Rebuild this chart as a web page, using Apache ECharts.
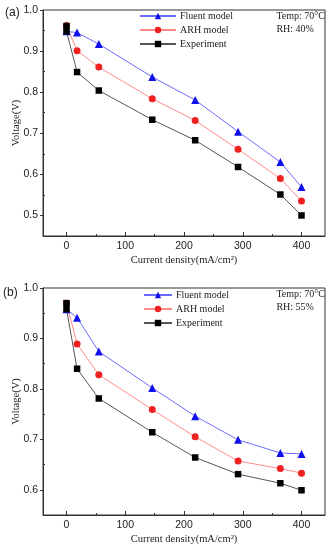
<!DOCTYPE html>
<html><head><meta charset="utf-8">
<script src="https://cdn.jsdelivr.net/npm/echarts@6/dist/echarts.min.js"></script>
<style>html,body{margin:0;padding:0;background:#fff}#c{width:332px;height:550px}</style>
</head><body><div id="c"></div>
<script>
const seriesNames = ['Fluent model', 'ARH model', 'Experiment'];
const xA_fluent = [0, 18, 55, 146, 219, 292, 364, 400];
const yA_fluent = [0.948, 0.945, 0.917, 0.837, 0.781, 0.704, 0.630, 0.569];
const xA_arh = [0, 18, 55, 146, 219, 292, 364, 400];
const yA_arh = [0.962, 0.901, 0.861, 0.784, 0.731, 0.661, 0.590, 0.535];
const xA_exp = [0, 0, 18, 55, 146, 219, 292, 364, 400];
const yA_exp = [0.961, 0.948, 0.849, 0.804, 0.733, 0.683, 0.618, 0.551, 0.500];

const xB_fluent = [0, 18, 55, 146, 219, 292, 364, 400];
const yB_fluent = [0.958, 0.941, 0.874, 0.802, 0.746, 0.699, 0.673, 0.671];
const xB_arh = [0, 18, 55, 146, 219, 292, 364, 400];
const yB_arh = [0.970, 0.889, 0.828, 0.759, 0.705, 0.657, 0.642, 0.633];
const xB_exp = [0, 0, 18, 55, 146, 219, 292, 364, 400];
const yB_exp = [0.970, 0.958, 0.840, 0.781, 0.714, 0.664, 0.631, 0.613, 0.599];

const xTicks = [0, 100, 200, 300, 400];
const xMinorTicks = [50, 150, 250, 350];
const yTicksA = [0.5, 0.6, 0.7, 0.8, 0.9, 1.0];
const yMinorA = [0.55, 0.65, 0.75, 0.85, 0.95];
const yTicksB = [0.6, 0.7, 0.8, 0.9, 1.0];
const yMinorB = [0.65, 0.75, 0.85, 0.95];
const panelLabels = ['(a)', '(b)'];
const notesA = ['Temp: 70°C', 'RH: 40%'];
const notesB = ['Temp: 70°C', 'RH: 55%'];
const xName = 'Current density(mA/cm²)';
const yName = 'Voltage(V)';

const pair = (xs, ys) => xs.map((x, i) => [x, ys[i]]);
const serif = 'Liberation Serif';
const sans = 'Liberation Sans';
const grids = [
  {left: 43, top: 10, width: 282, height: 226},
  {left: 43, top: 288, width: 282, height: 227}
];
const xRange = [-40, 440];
const yRanges = [[0.45, 1.0], [0.55, 1.0]];
const yTicks = [yTicksA, yTicksB];
const yMinor = [yMinorA, yMinorB];
const axisColor = '#333';

const xAxes = [], yAxes = [];
grids.forEach((g, i) => {
  xAxes.push({
    type: 'value', gridIndex: i, min: xRange[0], max: xRange[1], position: 'bottom', offset: 0,
    name: xName, nameLocation: 'middle', nameGap: 19, nameMoveOverlap: false,
    nameTextStyle: {fontFamily: serif, fontSize: 10.5, color: '#222'},
    axisLine: {show: true, onZero: false, lineStyle: {color: axisColor, width: 1}},
    axisTick: {show: true, inside: true, length: 4, customValues: xTicks, lineStyle: {color: axisColor}},
    axisLabel: {customValues: xTicks, fontFamily: sans, fontSize: 10.5, color: '#222', margin: 5},
    splitLine: {show: false}
  });
  xAxes.push({
    type: 'value', gridIndex: i, min: xRange[0], max: xRange[1], position: 'bottom', offset: 0,
    axisLine: {show: false, onZero: false},
    axisTick: {show: true, inside: true, length: 2, customValues: xMinorTicks, lineStyle: {color: axisColor}},
    axisLabel: {show: false}, splitLine: {show: false}
  });
  yAxes.push({
    type: 'value', gridIndex: i, min: yRanges[i][0], max: yRanges[i][1], position: 'left', offset: 0,
    name: yName, nameLocation: 'middle', nameGap: 21, nameMoveOverlap: false,
    nameTextStyle: {fontFamily: serif, fontSize: 10.5, color: '#222'},
    axisLine: {show: true, onZero: false, lineStyle: {color: axisColor, width: 1}},
    axisTick: {show: true, inside: false, length: 3, customValues: yTicks[i], lineStyle: {color: axisColor}},
    axisLabel: {customValues: yTicks[i], fontFamily: sans, fontSize: 10.5, color: '#222', margin: 5,
      formatter: v => v.toFixed(1)},
    splitLine: {show: false}
  });
  yAxes.push({
    type: 'value', gridIndex: i, min: yRanges[i][0], max: yRanges[i][1], position: 'left', offset: 0,
    axisLine: {show: false, onZero: false},
    axisTick: {show: true, inside: true, length: 2, customValues: yMinor[i], lineStyle: {color: axisColor}},
    axisLabel: {show: false}, splitLine: {show: false}
  });
});

const colors = {
  line: ['#6b6bff', '#ff8a8a', '#555555'],
  mark: ['#1010ee', '#ee2020', '#000000'],
  sym: ['triangle', 'circle', 'rect'],
  size: [8, 7, 6.5]
};
const data = [
  [pair(xA_fluent, yA_fluent), pair(xA_arh, yA_arh), pair(xA_exp, yA_exp)],
  [pair(xB_fluent, yB_fluent), pair(xB_arh, yB_arh), pair(xB_exp, yB_exp)]
];
const series = [];
data.forEach((set, gi) => {
  set.forEach((d, si) => {
    series.push({
      type: 'line', name: seriesNames[si], xAxisIndex: gi * 2, yAxisIndex: gi * 2,
      data: d, symbol: colors.sym[si], symbolSize: colors.size[si], showSymbol: true,
      lineStyle: {color: colors.line[si], width: 1},
      itemStyle: {color: colors.mark[si]}, animation: false
    });
  });
});

const legendFor = (left, top, w) => ({
  orient: 'vertical', left: left, top: top, itemWidth: w, itemHeight: 8, itemGap: 4,
  data: seriesNames, padding: 0,
  textStyle: {fontFamily: serif, fontSize: 10, color: '#222', padding: [0, 0, 0, -1]}
});

const noteText = (lines, top) => ({
  type: 'text', right: 7, top: top,
  style: {text: lines.join('\n'), font: '10px "Liberation Serif"', fill: '#222', lineHeight: 13, align: 'left'}
});

const chart = echarts.init(document.getElementById('c'), null, {renderer: 'canvas'});
chart.setOption({
  animation: false,
  grid: grids.map(g => Object.assign({show: true, borderColor: axisColor, borderWidth: 1, backgroundColor: 'transparent', containLabel: false, outerBoundsMode: 'none'}, g)),
  xAxis: xAxes, yAxis: yAxes,
  legend: [legendFor(139, 11, 36), legendFor(143, 290, 28)],
  series: series,
  graphic: [
    {type: 'text', left: 5, top: 7, style: {text: panelLabels[0], font: '12px "Liberation Sans"', fill: '#222'}},
    {type: 'text', left: 3, top: 287, style: {text: panelLabels[1], font: '12px "Liberation Sans"', fill: '#222'}},
    noteText(notesA, 10),
    noteText(notesB, 288)
  ]
});
</script></body></html>
